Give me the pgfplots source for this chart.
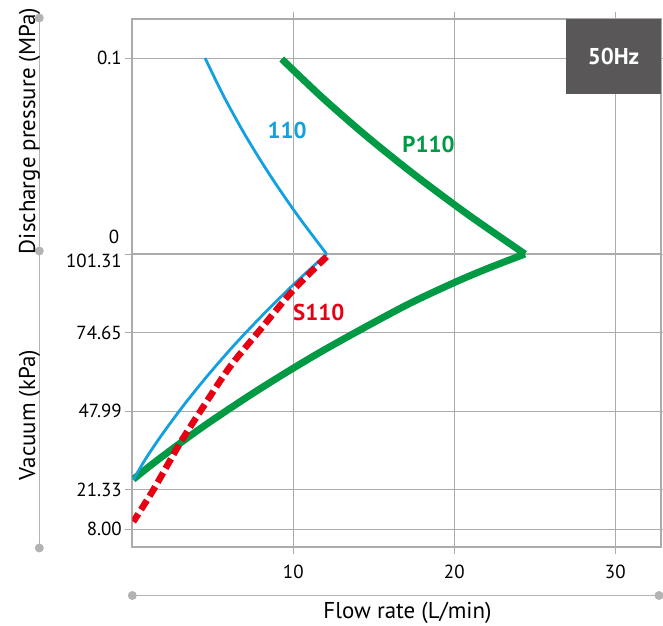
\documentclass[border=0pt]{standalone}
\usepackage{fontspec}
\setmainfont{PT Sans}
\usepackage{pgfplots}
\pgfplotsset{compat=1.18}
\definecolor{cblue}{HTML}{12A0DF}
\definecolor{cgreen}{HTML}{009A44}
\definecolor{cred}{HTML}{E60012}
\definecolor{gridgray}{HTML}{ABABAB}
\definecolor{boxgray}{HTML}{595757}
\definecolor{decogray}{HTML}{B3B3B3}
\begin{document}
\begin{tikzpicture}
\useasboundingbox (0,0) rectangle (663bp,626bp);
% decorative guide lines
\draw[decogray, line width=1.5bp] (39.3bp,608bp) -- (39.3bp,78bp);
\fill[decogray] (39.3bp,608bp) circle (4.5bp);
\fill[decogray] (39.3bp,375bp) circle (4.5bp);
\fill[decogray] (39.3bp,78bp) circle (4.5bp);
\draw[decogray, line width=1.5bp] (132.3bp,30.5bp) -- (660bp,30.5bp);
\fill[decogray] (132.3bp,30.5bp) circle (4.5bp);
\fill[decogray] (659bp,30.5bp) circle (4.5bp);
\node[rotate=90, anchor=base, inner sep=0pt, font=\fontsize{23}{27}\selectfont] at (35bp,495bp) {Discharge pressure (MPa)};
\node[rotate=90, anchor=base, inner sep=0pt, font=\fontsize{23}{27}\selectfont] at (35bp,211bp) {Vacuum (kPa)};
\node[anchor=base, inner sep=0pt, font=\fontsize{23}{27}\selectfont] at (407.5bp,7.7bp) {Flow rate (L/min)};
\begin{axis}[
  at={(132.3bp,79bp)}, anchor=south west,
  scale only axis, width=528.7bp, height=528bp,
  xmin=0, xmax=32.84, ymin=1.9, ymax=181.05,
  axis line style={gridgray, line width=2bp},
  xtick={10,20,30}, xticklabels={10,20,30},
  ytick={8,21.33,47.99,74.65,167.8},
  yticklabels={8.00,21.33,47.99,74.65,0.1},
  extra y ticks={101.31}, extra y tick labels={101.31},
  extra y tick style={yticklabel style={yshift=-7bp}, major grid style={gridgray, line width=2bp}},
  grid=major, major grid style={gridgray, line width=1bp},
  tick style={gridgray, line width=1bp}, tick align=outside, major tick length=7bp,
  ticklabel style={font=\fontsize{19}{22}\selectfont},
  xticklabel style={yshift=-8bp},
  clip=true,
]
% P110 (green): discharge branch, then vacuum branch
\addplot[cgreen, line width=7bp, smooth] coordinates {
 (9.28,167.48) (11.83,154.25) (14.61,141.01) (17.63,127.78) (20.89,114.54) (24.39,101.31)
};
\addplot[cgreen, line width=7bp, smooth] coordinates {
 (24.39,101.31) (22.14,96.56) (20.01,91.64) (16.80,83.33) (11.80,68.40) (7.91,55.50) (4.36,42.61) (1.49,31.07) (0.06,24.86)
};
% 110 (blue)
\addplot[cblue, line width=2.8bp, smooth] coordinates {
 (4.52,167.8) (5.71,154.52) (7.06,141.21) (8.57,127.91) (10.24,114.61) (12.07,101.31)
};
\addplot[cblue, line width=2.8bp, smooth] coordinates {
 (12.07,101.31) (10.05,91.13) (8.16,80.95) (6.39,70.77) (4.76,60.59) (3.25,50.41) (1.87,40.23) (0.82,31.75) (0.06,24.62)
};
% S110 (red dashed)
\addplot[cred, line width=6.5bp, dash pattern=on 11bp off 5bp, smooth] coordinates {
 (12.07,100.39) (10.0,89.09) (7.93,75.52) (6.07,63.07) (4.41,49.49) (2.96,37.08) (1.30,21.23) (0.06,10.47)
};
\node[cblue, font=\bfseries\fontsize{23}{27}\selectfont] at (axis cs:9.61,143.39) {110};
\node[cgreen, font=\bfseries\fontsize{23}{27}\selectfont] at (axis cs:18.40,138.64) {P110};
\node[cred, font=\bfseries\fontsize{23}{27}\selectfont] at (axis cs:11.58,81.63) {S110};
\end{axis}
\node[anchor=east, inner sep=0pt, font=\fontsize{19}{22}\selectfont] at (119.3bp,389.5bp) {0};
\fill[boxgray] (566bp,532bp) rectangle (661bp,607bp);
\node[white, font=\bfseries\fontsize{23}{27}\selectfont] at (613.5bp,570bp) {50Hz};
\end{tikzpicture}
\end{document}
